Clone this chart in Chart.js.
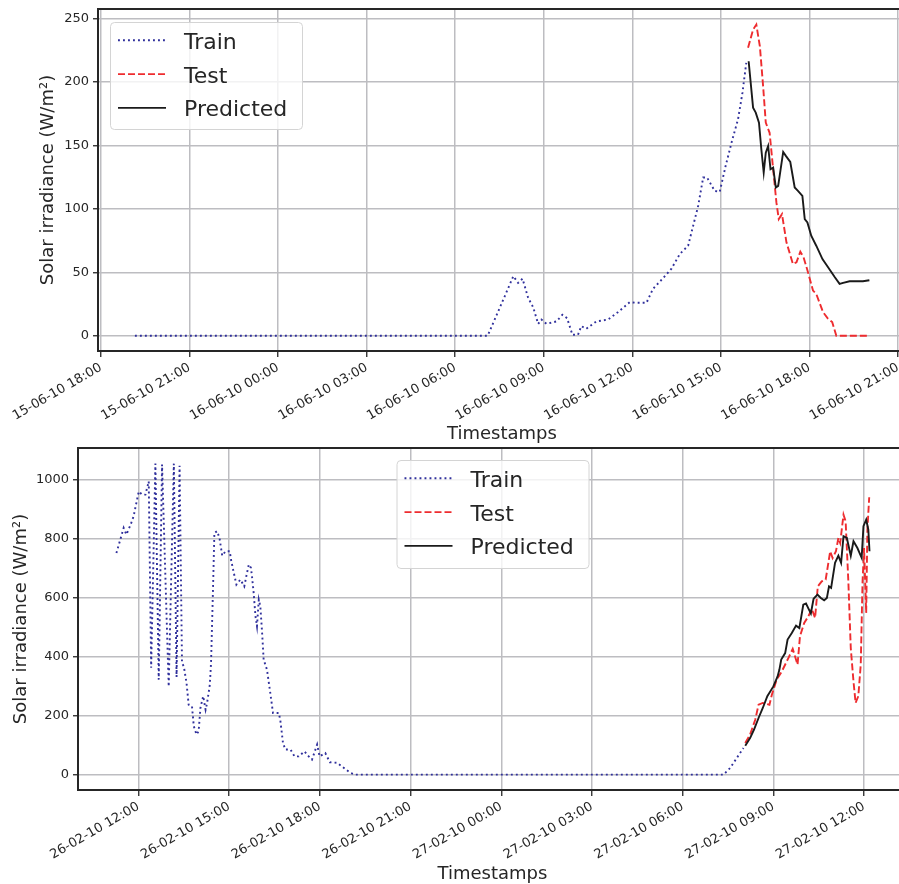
<!DOCTYPE html>
<html>
<head>
<meta charset="utf-8">
<script src="https://cdn.jsdelivr.net/npm/chart.js@4.4.0/dist/chart.umd.min.js"></script>
<style>
  html, body { margin: 0; padding: 0; background: #fff; overflow: hidden; width: 899px; height: 884px; }
  canvas { position: absolute; left: 0; }
  #c1 { top: 0; }
  #c2 { top: 442px; }
</style>
</head>
<body>
<canvas id="c1" width="910" height="446"></canvas>
<canvas id="c2" width="910" height="443"></canvas>
<script>
// ---- top panel: hours counted from 15-06-10 00:00 ----
var topTrainX = [19.15, 31.10, 31.97, 32.13, 32.28, 32.47, 32.64, 32.81, 32.92, 33.09, 33.43, 33.63, 33.79, 33.97, 34.16, 34.27, 34.44, 34.78, 35.18, 35.51, 35.91, 36.14, 36.48, 36.70, 37.04, 37.32, 37.61, 37.89, 38.23, 38.40, 38.53, 38.79, 38.96, 39.16, 39.39, 39.58, 39.73, 39.86];
var topTrainY = [0, 0, 47, 41.7, 45, 30, 22.5, 9.4, 12.8, 9.4, 11.3, 16.5, 13.9, 0.8, 0.8, 7.6, 5.5, 11.3, 12.8, 18.6, 26.5, 26, 26, 37, 45.4, 52.7, 64.5, 71, 102.4, 124.8, 124.8, 114.2, 113.4, 133.9, 154.9, 170.6, 191.6, 215.2];
var topTestX = [39.92, 40.09, 40.20, 40.32, 40.43, 40.52, 40.65, 40.77, 40.88, 40.96, 41.07, 41.22, 41.44, 41.56, 41.69, 41.80, 41.95, 42.12, 42.23, 42.46, 42.63, 42.77, 42.91, 43.98];
var topTestY = [227, 241.4, 245.3, 228.2, 196.8, 168, 160, 131.3, 105.1, 92, 95.9, 73.7, 56.6, 57.9, 66.3, 61.9, 50.1, 35.6, 33, 18.6, 13.4, 10.8, 0, 0];
var topPredX = [39.94, 40.09, 40.18, 40.29, 40.37, 40.45, 40.52, 40.60, 40.68, 40.77, 40.86, 40.94, 41.11, 41.20, 41.35, 41.50, 41.61, 41.76, 41.84, 41.93, 42.06, 42.23, 42.44, 42.63, 42.86, 43.02, 43.14, 43.36, 43.81, 44.03];
var topPredY = [216.4, 179.8, 175.9, 168, 147, 128.7, 144.4, 149.6, 131.3, 132.6, 116.9, 118.2, 144.9, 141.8, 137, 116.9, 114.2, 110.3, 92, 89.4, 78.9, 71, 60.5, 54, 46.1, 40.9, 41.7, 43, 43, 43.8];
var topTickHours = [18, 21, 24, 27, 30, 33, 36, 39, 42, 45];
var topTickLabels = ['15-06-10 18:00', '15-06-10 21:00', '16-06-10 00:00', '16-06-10 03:00', '16-06-10 06:00', '16-06-10 09:00', '16-06-10 12:00', '16-06-10 15:00', '16-06-10 18:00', '16-06-10 21:00'];
var topYTicks = [0, 50, 100, 150, 200, 250];

// ---- bottom panel: hours counted from 26-02-10 00:00 ----
var botTrainX = [11.27, 11.51, 11.60, 11.74, 11.84, 12.01, 12.12, 12.23, 12.34, 12.42, 12.56, 12.67, 12.78, 13.00, 13.17, 13.26, 13.36, 13.44, 13.50, 13.59, 13.66, 13.77, 13.83, 13.92, 13.99, 14.05, 14.14, 14.22, 14.27, 14.36, 14.40, 14.47, 14.51, 14.60, 14.68, 14.77, 14.88, 15.02, 15.06, 15.13, 15.24, 15.37, 15.50, 15.59, 15.65, 15.72, 15.76, 15.81, 15.87, 15.92, 15.98, 16.03, 16.09, 16.14, 16.25, 16.36, 16.45, 16.64, 16.69, 16.78, 16.86, 17.03, 17.16, 17.30, 17.49, 17.63, 17.74, 17.91, 17.99, 18.18, 18.33, 18.57, 19.01, 19.17, 31.35, 31.57, 31.79, 32.01];
var botTrainY = [751, 836, 814, 847, 876, 960, 949, 949, 994, 362, 1054, 322, 1051, 299, 1054, 331, 1047, 378, 367, 311, 237, 232, 164, 136, 147, 226, 266, 220, 243, 305, 379, 650, 819, 825, 802, 742, 757, 757, 729, 695, 644, 661, 638, 684, 712, 701, 667, 616, 537, 503, 593, 571, 480, 390, 356, 277, 209, 209, 186, 107, 85, 85, 62, 62, 79, 62, 51, 102, 62, 73, 42, 40, 6, 0, 0, 22.6, 56.5, 90.4];
var botTestX = [32.07, 32.23, 32.40, 32.51, 32.65, 32.87, 32.95, 33.11, 33.28, 33.50, 33.64, 33.80, 33.88, 34.02, 34.16, 34.27, 34.38, 34.47, 34.60, 34.73, 34.88, 34.96, 35.07, 35.15, 35.21, 35.32, 35.39, 35.48, 35.56, 35.65, 35.72, 35.81, 35.89, 35.95, 36.00, 36.07, 36.11, 36.17];
var botTestY = [107, 136, 186, 237, 243, 237, 271, 322, 350, 396, 426, 373, 469, 514, 537, 562, 531, 638, 655, 661, 757, 734, 757, 802, 785, 881, 859, 655, 429, 316, 243, 266, 373, 655, 768, 549, 831, 940];
var botPredX = [32.07, 32.23, 32.36, 32.51, 32.65, 32.80, 33.00, 33.14, 33.20, 33.26, 33.39, 33.47, 33.61, 33.75, 33.86, 33.99, 34.08, 34.24, 34.33, 34.46, 34.57, 34.68, 34.77, 34.84, 34.91, 35.04, 35.15, 35.24, 35.32, 35.43, 35.56, 35.65, 35.78, 35.92, 35.98, 36.07, 36.14, 36.18];
var botPredY = [98, 124, 153, 192, 226, 266, 299, 333, 356, 390, 412, 458, 480, 505, 497, 576, 580, 546, 596, 610, 599, 591, 599, 638, 633, 718, 742, 718, 808, 802, 742, 791, 768, 735, 842, 864, 831, 757];
var botTickHours = [12, 15, 18, 21, 24, 27, 30, 33, 36];
var botTickLabels = ['26-02-10 12:00', '26-02-10 15:00', '26-02-10 18:00', '26-02-10 21:00', '27-02-10 00:00', '27-02-10 03:00', '27-02-10 06:00', '27-02-10 09:00', '27-02-10 12:00'];
var botYTicks = [0, 200, 400, 600, 800, 1000];

var TEXT = '#262626';
var GRID = '#bdbdc1';
Chart.defaults.font.family = '"DejaVu Sans", sans-serif';
Chart.defaults.color = TEXT;

function pts(xs, ys) {
  return xs.map(function (x, i) { return { x: x, y: ys[i] }; });
}

// black frame round the plot area
var framePlugin = {
  id: 'frame',
  afterDatasetsDraw: function (chart) {
    var a = chart.chartArea, ctx = chart.ctx;
    ctx.save();
    ctx.strokeStyle = TEXT;
    ctx.lineWidth = 2;
    ctx.strokeRect(a.left, a.top, a.right - a.left, a.bottom - a.top);
    ctx.restore();
  }
};

// matplotlib-like boxed legend, placed where the options say
var boxLegend = {
  id: 'boxLegend',
  afterDraw: function (chart, args, o) {
    var ctx = chart.ctx;
    ctx.save();
    ctx.beginPath();
    ctx.roundRect(o.x + 0.5, o.y + 0.5, o.w, o.h, 4);
    ctx.fillStyle = 'rgba(255,255,255,0.8)';
    ctx.fill();
    ctx.strokeStyle = '#d4d4d4';
    ctx.lineWidth = 1;
    ctx.stroke();
    chart.data.datasets.forEach(function (ds, i) {
      var y = o.y + 18.3 + i * 33.8;
      ctx.setLineDash(ds.borderDash || []);
      ctx.strokeStyle = ds.borderColor;
      ctx.lineWidth = ds.borderWidth;
      ctx.beginPath();
      ctx.moveTo(o.x + 8, y);
      ctx.lineTo(o.x + 56, y);
      ctx.stroke();
      ctx.setLineDash([]);
      ctx.fillStyle = TEXT;
      ctx.font = '22px "DejaVu Sans"';
      ctx.textBaseline = 'alphabetic';
      ctx.fillText(ds.label, o.x + 74, y + 8.5);
    });
    ctx.restore();
  }
};

function makeChart(id, d) {
  return new Chart(document.getElementById(id), {
    type: 'line',
    data: {
      datasets: [
        { label: 'Train', data: pts(d.trainX, d.trainY), borderColor: '#30309c', borderWidth: 1.9, borderDash: [1.9, 3.1], order: 2 },
        { label: 'Test', data: pts(d.testX, d.testY), borderColor: '#ee2c2f', borderWidth: 1.9, borderDash: [7, 3], order: 1 },
        { label: 'Predicted', data: pts(d.predX, d.predY), borderColor: '#1a1a1a', borderWidth: 1.9, order: 0 }
      ]
    },
    options: {
      responsive: false,
      animation: false,
      elements: { point: { radius: 0 }, line: { tension: 0, fill: false, borderCapStyle: 'butt' } },
      layout: { padding: d.pad },
      plugins: {
        legend: { display: false },
        tooltip: { enabled: false },
        boxLegend: d.legend
      },
      scales: {
        x: {
          type: 'linear',
          min: d.xMin, max: d.xMax,
          afterBuildTicks: function (s) { s.ticks = d.tickHours.map(function (v) { return { value: v }; }); },
          afterFit: function (s) { s.height = d.xHeight; s.paddingLeft = 0; s.paddingRight = 0; },
          ticks: {
            autoSkip: false, minRotation: 30, maxRotation: 30, padding: 3,
            font: { size: 13 }, color: TEXT,
            callback: function (v, i) { return d.tickLabels[i]; }
          },
          grid: { color: GRID, lineWidth: 1.5, tickColor: TEXT, tickLength: 6, tickWidth: 1.3 },
          border: { display: false },
          title: { display: true, text: 'Timestamps', font: { size: 18 }, color: TEXT, padding: { top: 0, bottom: d.xTitlePad } }
        },
        y: {
          min: d.yMin, max: d.yMax,
          afterBuildTicks: function (s) { s.ticks = d.yTicks.map(function (v) { return { value: v }; }); },
          afterFit: function (s) { s.width = d.yWidth; s.paddingTop = 0; s.paddingBottom = 0; },
          ticks: { padding: 4, font: { size: 13 }, color: TEXT, callback: function (v) { return String(v); } },
          grid: { color: GRID, lineWidth: 1.5, tickColor: TEXT, tickLength: 5, tickWidth: 1.3 },
          border: { display: false },
          title: { display: true, text: 'Solar irradiance (W/m²)', font: { size: 18 }, color: TEXT, padding: { top: d.yTitlePad, bottom: 0 } }
        }
      }
    },
    plugins: [framePlugin, boxLegend]
  });
}

makeChart('c1', {
  trainX: topTrainX, trainY: topTrainY, testX: topTestX, testY: topTestY, predX: topPredX, predY: topPredY,
  tickHours: topTickHours, tickLabels: topTickLabels, yTicks: topYTicks,
  xMin: 17.9, xMax: 45.27, yMin: -12, yMax: 257.6,
  pad: { top: 9, right: 4, left: 0, bottom: 0 },
  xHeight: 95, yWidth: 98, xTitlePad: 1, yTitlePad: 38,
  legend: { x: 110, y: 22, w: 192, h: 107 }
});

makeChart('c2', {
  trainX: botTrainX, trainY: botTrainY, testX: botTestX, testY: botTestY, predX: botPredX, predY: botPredY,
  tickHours: botTickHours, tickLabels: botTickLabels, yTicks: botYTicks,
  xMin: 10.0, xMax: 37.42, yMin: -52, yMax: 1107,
  pad: { top: 6, right: 3, left: 0, bottom: 0 },
  xHeight: 95, yWidth: 78, xTitlePad: 0, yTitlePad: 11,
  legend: { x: 396.5, y: 18, w: 192, h: 108 }
});
</script>
</body>
</html>
